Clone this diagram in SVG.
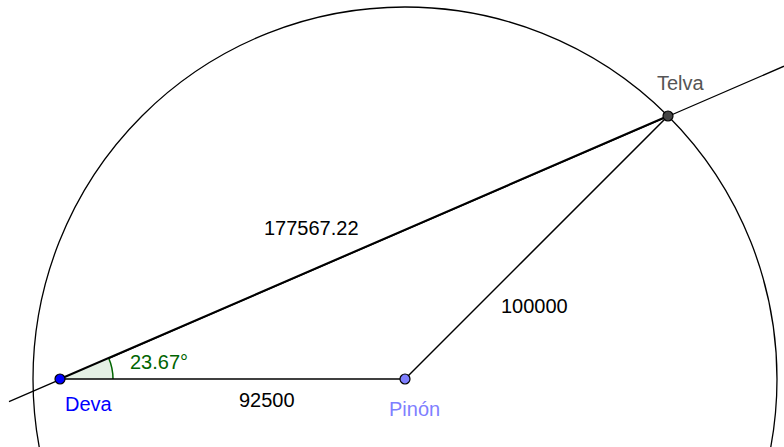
<svg xmlns="http://www.w3.org/2000/svg" width="784" height="447" viewBox="0 0 784 447">
<style>
text{font-family:"Liberation Sans",Arial,sans-serif;font-size:20px}
.ln{stroke:#000;fill:none}
.pt{stroke:#000;stroke-width:1.2}
</style>
<rect width="784" height="447" fill="#fff"/>
<g id="connectors">
<circle class="ln" cx="405" cy="379" r="372" stroke-width="1.3"/>
<line class="ln" x1="9" y1="401.6" x2="784" y2="66.2" stroke-width="1.3"/>
<path id="angle" d="M60,379 L113,379 A53,53 0 0 0 108.55,357.72 Z" fill="#e5f0e5" stroke="none"/>
<path d="M113,379 A53,53 0 0 0 108.55,357.72" fill="none" stroke="#006400" stroke-width="1.5"/>
<line class="ln" x1="60" y1="379" x2="668" y2="116" stroke-width="2"/>
<line class="ln" x1="60" y1="379" x2="405" y2="379" stroke-width="1.5"/>
<line class="ln" x1="405" y1="379" x2="668" y2="116" stroke-width="1.5"/>
<text x="264" y="235">177567.22</text>
<text x="501" y="313">100000</text>
<text x="239" y="407">92500</text>
<text x="130" y="369" fill="#006400">23.67°</text>
</g>
<g id="deva">
<circle class="pt" cx="60" cy="379" r="5" fill="#0000ff"/>
<text x="65" y="411" fill="#0000ff">Deva</text>
</g>
<g id="pinon">
<circle class="pt" cx="405" cy="379" r="5" fill="#7f7fff"/>
<text x="389" y="416" fill="#7f7fff">Pinón</text>
</g>
<g id="telva">
<circle class="pt" cx="668" cy="116" r="5" fill="#444"/>
<text x="657" y="90" fill="#555">Telva</text>
</g>
</svg>
